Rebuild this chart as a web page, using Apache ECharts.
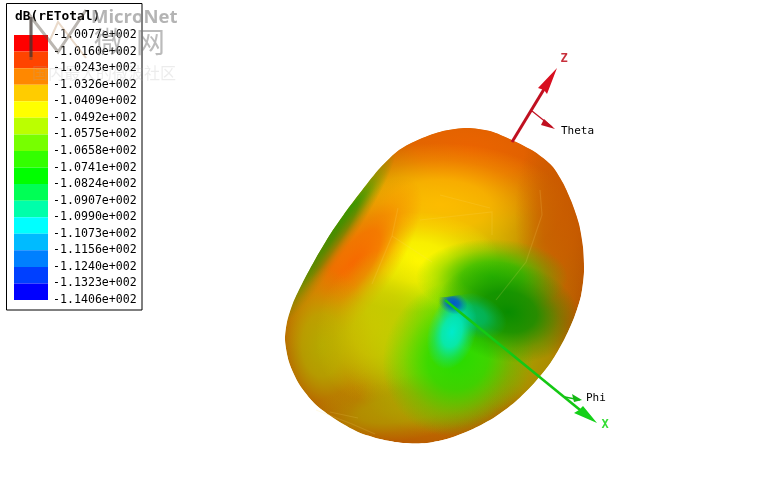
<!DOCTYPE html>
<html><head><meta charset="utf-8">
<style>html,body{margin:0;padding:0;background:#fff}#c{width:757px;height:503px}</style>
<script src="https://cdn.jsdelivr.net/npm/echarts@6/dist/echarts.min.js"></script>
</head><body><div id="c"></div>
<script>
const legendTitle = 'dB(rETotal)';
const legendLabels = ['-1.0077e+002','-1.0160e+002','-1.0243e+002','-1.0326e+002','-1.0409e+002','-1.0492e+002','-1.0575e+002','-1.0658e+002','-1.0741e+002','-1.0824e+002','-1.0907e+002','-1.0990e+002','-1.1073e+002','-1.1156e+002','-1.1240e+002','-1.1323e+002','-1.1406e+002'];
const legendColors = ['#ff0000','#ff4400','#ff8800','#ffcc00','#ffff00','#bbff00','#77ff00','#33ff00','#00ff00','#00ff55','#00ffaa','#00ffff','#00bbff','#0080ff','#0040ff','#0000ff'];
// silhouette of the radiation pattern, in picture coordinates
const bodyOutline = [[467,128],[490,131],[512,140],[535,152],[552,166],[563,183],[572,203],[579,224],[583,247],[584,272],[581,296],[574,318],[564,340],[551,362],[535,382],[515,402],[495,417],[473,429],[450,438],[427,443],[403,443],[380,439],[358,432],[335,419],[315,404],[299,384],[289,362],[285,340],[287,322],[293,303],[303,282],[316,258],[331,233],[347,210],[363,189],[380,168],[399,150],[420,139],[443,131]];
// soft shaded regions: x, y, radius x, radius y, angle, dB level, light, opacity
const patchX =  [428,428,440,470,440,560,415,332,352,322,378,405,530,458,492,508,472,452,453];
const patchY =  [295,283,330,150,205,215,262,240,266,345,325,408,365,358,277,312,315,332,303];
const patchRx = [150,165,105,135,125, 45, 85,112,106, 50, 60,115, 50, 74, 76, 72, 36, 24, 15];
const patchRy = [170,178,105, 70, 62,100, 50, 17, 40, 78, 78, 32, 62, 80, 38, 50, 22, 38, 11];
const patchA =  [  0,  0,  0,  5,  0,  0,  0,-56,-54,  0, 20,-10,  0, 30,  0, 10, 20, 15, 20];
const patchDb = [-102.5,-104.7,-105.6,-102.5,-103.5,-102.6,-104.4,-107.0,-102.5,-104.4,-104.3,-104.3,-104.3,-107.2,-106.8,-107.6,-109.2,-110.0,-112.2];
const patchLight=[0.72,0.84,0.88,0.92,1.00,0.80,1.00,0.58,0.97,0.70,0.82,0.68,0.65,0.86,0.74,0.55,0.72,0.92,0.80];
const patchAlpha=[1,1,0.9,1,0.95,0.85,1,1,1,0.9,0.75,0.75,0.85,0.95,1,1,1,1,1];
// regions that stop at the sharp upper edge of the hole
const holePatches = [16,17,18];
const holeEdge = [[446,297],[500,289],[600,210],[600,430],[400,430],[400,297]];
const facetLines = [
 [[398,208],[392,236],[372,284]],[[392,236],[432,262]],[[420,220],[492,212],[492,235]],
 [[440,195],[490,208]],[[540,190],[542,215],[526,262],[496,300]],[[316,410],[352,424],[375,434]],[[330,412],[358,418]]
];
const zAxisLine = [[512,142],[552,76]];
const zHead = [[557,68],[538,88],[544,90],[547,94]];
const thetaLine = [[532,111],[552,127]];
const thetaHead = [[555,129],[544,119],[541,125]];
const xAxisLine = [[445,300],[585,414]];
const xHead = [[597,423],[574,413],[579,410],[583,406]];
const phiLine = [[565,397],[580,400]];
const phiHead = [[582,400],[572,394],[574,402]];
const axisNames = [['Z',564,59,'#c8303c'],['X',605,425,'#33dd33']];
const coordNames = [['Theta',561,131],['Phi',586,398]];

function dbColor(db, light){
  const top = parseFloat(legendLabels[0]), bot = parseFloat(legendLabels[legendLabels.length-1]);
  let p = (db-top)/(bot-top)*16 - 0.5; p = Math.max(0,Math.min(15,p));
  const i = Math.min(14,Math.floor(p)), f = p-i;
  const h = c=>[1,3,5].map(k=>parseInt(c.substr(k,2),16));
  const a=h(legendColors[i]), b=h(legendColors[i+1]);
  return a.map((v,k)=>Math.round((v+(b[k]-v)*f)*light));
}
const chart = echarts.init(document.getElementById('c'), null, {renderer:'canvas'});
const pts = (api, list)=>list.map(p=>api.coord(p));
const poly = (id,data,color)=>({type:'custom',id,xAxisIndex:0,yAxisIndex:0,data:[0],z:6,silent:true,clip:false,
  renderItem:(p,api)=>({type:'polygon',shape:{points:pts(api,data)},style:{fill:color}})});
const line = (id,data,color,w)=>({type:'custom',id,xAxisIndex:0,yAxisIndex:0,data:[0],z:6,silent:true,clip:false,
  renderItem:(p,api)=>({type:'polyline',shape:{points:pts(api,data)},style:{stroke:color,lineWidth:w,fill:null}})});

chart.setOption({
  animation:false, backgroundColor:'#fff',
  grid:[{left:0,top:0,width:757,height:503},{left:14,top:35,width:34,height:265}],
  xAxis:[{type:'value',min:0,max:757,show:false,gridIndex:0},{type:'value',min:0,max:1,show:false,gridIndex:1}],
  yAxis:[{type:'value',min:0,max:503,inverse:true,show:false,gridIndex:0},
    {type:'value',min:0,max:16,interval:1,inverse:true,position:'right',gridIndex:1,
     axisLine:{show:false},axisTick:{show:false},splitLine:{show:false},
     axisLabel:{margin:5,color:'#000',fontFamily:'DejaVu Sans Mono',fontSize:11.6,showMinLabel:true,showMaxLabel:true,hideOverlap:false,
       formatter:v=>legendLabels[v]}}],
  graphic:[
    {type:'rect',z:-5,shape:{x:6.5,y:3.5,width:135.5,height:306.5},style:{fill:'#fff',stroke:'#000',lineWidth:1}},
    {type:'text',z:8,x:15,y:10,style:{text:legendTitle,font:'bold 12.9px "DejaVu Sans Mono"',fill:'#000'}},
    {type:'polyline',z:9,shape:{points:[[31,60],[31,17],[58,52],[86,10]]},style:{stroke:'rgba(90,80,70,0.42)',lineWidth:3,fill:null}},
    {type:'polyline',z:9,shape:{points:[[31,17],[31,57]]},style:{stroke:'rgba(50,40,40,0.55)',lineWidth:3,fill:null}},
    {type:'polyline',z:9,shape:{points:[[50,40],[58,22],[86,58]]},style:{stroke:'rgba(200,160,120,0.4)',lineWidth:2,fill:null}},
    {type:'text',z:9,x:91,y:8,style:{text:'MicroNet',font:'bold 18.5px "Open Sans"',fill:'rgba(130,130,130,0.6)'}},
    {type:'text',z:9,x:94,y:27,style:{text:'微  网',font:'29px "Noto Sans CJK SC"',fill:'rgba(120,120,120,0.5)'}},
    {type:'text',z:9,x:32,y:65,style:{text:'国内最大的微波社区',font:'16px "Noto Sans CJK SC"',fill:'rgba(170,170,170,0.22)'}}
  ],
  series:[
    {type:'custom',id:'legendBands',xAxisIndex:1,yAxisIndex:1,silent:true,data:legendColors.map((c,i)=>[i]),
     renderItem:(p,api)=>{const i=api.value(0);const a=api.coord([0,i]),b=api.coord([1,i+1]);
       return {type:'rect',shape:{x:a[0],y:a[1],width:b[0]-a[0],height:b[1]-a[1]},style:{fill:legendColors[i]}};}},
    {type:'custom',id:'pattern',xAxisIndex:0,yAxisIndex:0,silent:true,z:3,clip:false,data:patchX.map((x,i)=>[i]),
     renderItem:(p,api)=>{
       const i=api.value(0), c=api.coord([patchX[i],patchY[i]]);
       const col=dbColor(patchDb[i],patchLight[i]), al=patchAlpha[i];
       const rgb=a=>`rgba(${col[0]},${col[1]},${col[2]},${a})`;
       const fill=i===0?rgb(1):new echarts.graphic.RadialGradient(0.5,0.5,0.5,[
         {offset:0,color:rgb(al)},{offset:0.4,color:rgb(al*0.82)},{offset:0.72,color:rgb(al*0.32)},{offset:1,color:rgb(0)}]);
       const el = i===0
         ?{type:'polygon',shape:{points:pts(api,bodyOutline),smooth:0.25},style:{fill}}
         :{type:'circle',x:c[0],y:c[1],rotation:-patchA[i]*Math.PI/180,scaleX:patchRx[i]/100,scaleY:patchRy[i]/100,shape:{cx:0,cy:0,r:100},style:{fill}};
       const inner = holePatches.includes(i)
         ?{type:'group',clipPath:{type:'polygon',shape:{points:pts(api,holeEdge)}},children:[el]}
         :el;
       return {type:'group',clipPath:{type:'polygon',shape:{points:pts(api,bodyOutline),smooth:0.25}},children:[inner]};
     }},
    {type:'custom',id:'facets',xAxisIndex:0,yAxisIndex:0,silent:true,z:4,clip:false,data:facetLines.map((l,i)=>[i]),
     renderItem:(p,api)=>({type:'polyline',shape:{points:pts(api,facetLines[api.value(0)])},style:{stroke:'rgba(255,225,110,0.16)',lineWidth:1.2,fill:null}})},
    line('zLine',zAxisLine,'#c01020',3),
    poly('zHead',zHead,'#d80f20'),
    line('thetaLine',thetaLine,'#c01020',1.3),
    poly('thetaHead',thetaHead,'#c01020'),
    line('xLine',xAxisLine,'#14c814',2.6),
    poly('xHead',xHead,'#14d018'),
    line('phiLine',phiLine,'#14b814',1.3),
    poly('phiHead',phiHead,'#14b814'),
    {type:'custom',id:'axisNames',xAxisIndex:0,yAxisIndex:0,silent:true,z:7,clip:false,data:axisNames.map((a,i)=>[i]),
     renderItem:(p,api)=>{const a=axisNames[api.value(0)],c=api.coord([a[1],a[2]]);
       return {type:'text',x:c[0],y:c[1],style:{text:a[0],fill:a[3],font:'bold 12px "DejaVu Sans Mono"',align:'center',verticalAlign:'middle'}};}},
    {type:'custom',id:'coordNames',xAxisIndex:0,yAxisIndex:0,silent:true,z:7,clip:false,data:coordNames.map((a,i)=>[i]),
     renderItem:(p,api)=>{const a=coordNames[api.value(0)],c=api.coord([a[1],a[2]]);
       return {type:'text',x:c[0],y:c[1],style:{text:a[0],fill:'#000',font:'11px "DejaVu Sans Mono"',align:'left',verticalAlign:'middle'}};}}
  ]
});
</script></body></html>
